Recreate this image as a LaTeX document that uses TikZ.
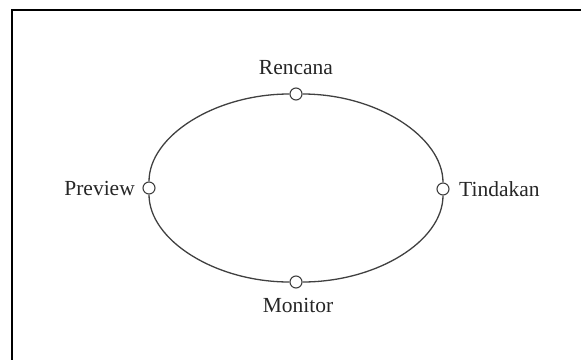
\documentclass[tikz,border=0pt]{standalone}
\usepackage{fontspec}
\setmainfont{Liberation Serif}
\begin{document}
\begin{tikzpicture}[x=1pt,y=-1pt,
  dot/.style={circle,draw=black!75,line width=1.1pt,fill=white,minimum size=12pt,inner sep=0pt},
  lbl/.style={font=\fontsize{21.5}{24}\selectfont,text=black!85,inner sep=0pt},
  loop/.style={draw=black!75,line width=1.3pt},
  frame/.style={draw=black,line width=2.2pt}]
\useasboundingbox (0,0) rectangle (581,359);
\draw[frame] (12,362) -- (12,10) -- (584,10);
\node[dot] (top) at (296,94) {};
\node[dot] (left) at (149,188) {};
\node[dot] (right) at (443,189) {};
\node[dot] (bot) at (296,282) {};
\draw[loop] (top) .. controls +(-81,0) and +(0,-52) .. (left);
\draw[loop] (left) .. controls +(0,52) and +(-81,0) .. (bot);
\draw[loop] (bot) .. controls +(81,0) and +(0,52) .. (right);
\draw[loop] (right) .. controls +(0,-52) and +(81,0) .. (top);
\node[lbl] (trencana) at (296,68) {Rencana};
\node[lbl,anchor=east] (tpreview) at (135,188) {Preview};
\node[lbl,anchor=west] (ttindakan) at (459,189) {Tindakan};
\node[lbl] (tmonitor) at (298,305) {Monitor};
\end{tikzpicture}
\end{document}
